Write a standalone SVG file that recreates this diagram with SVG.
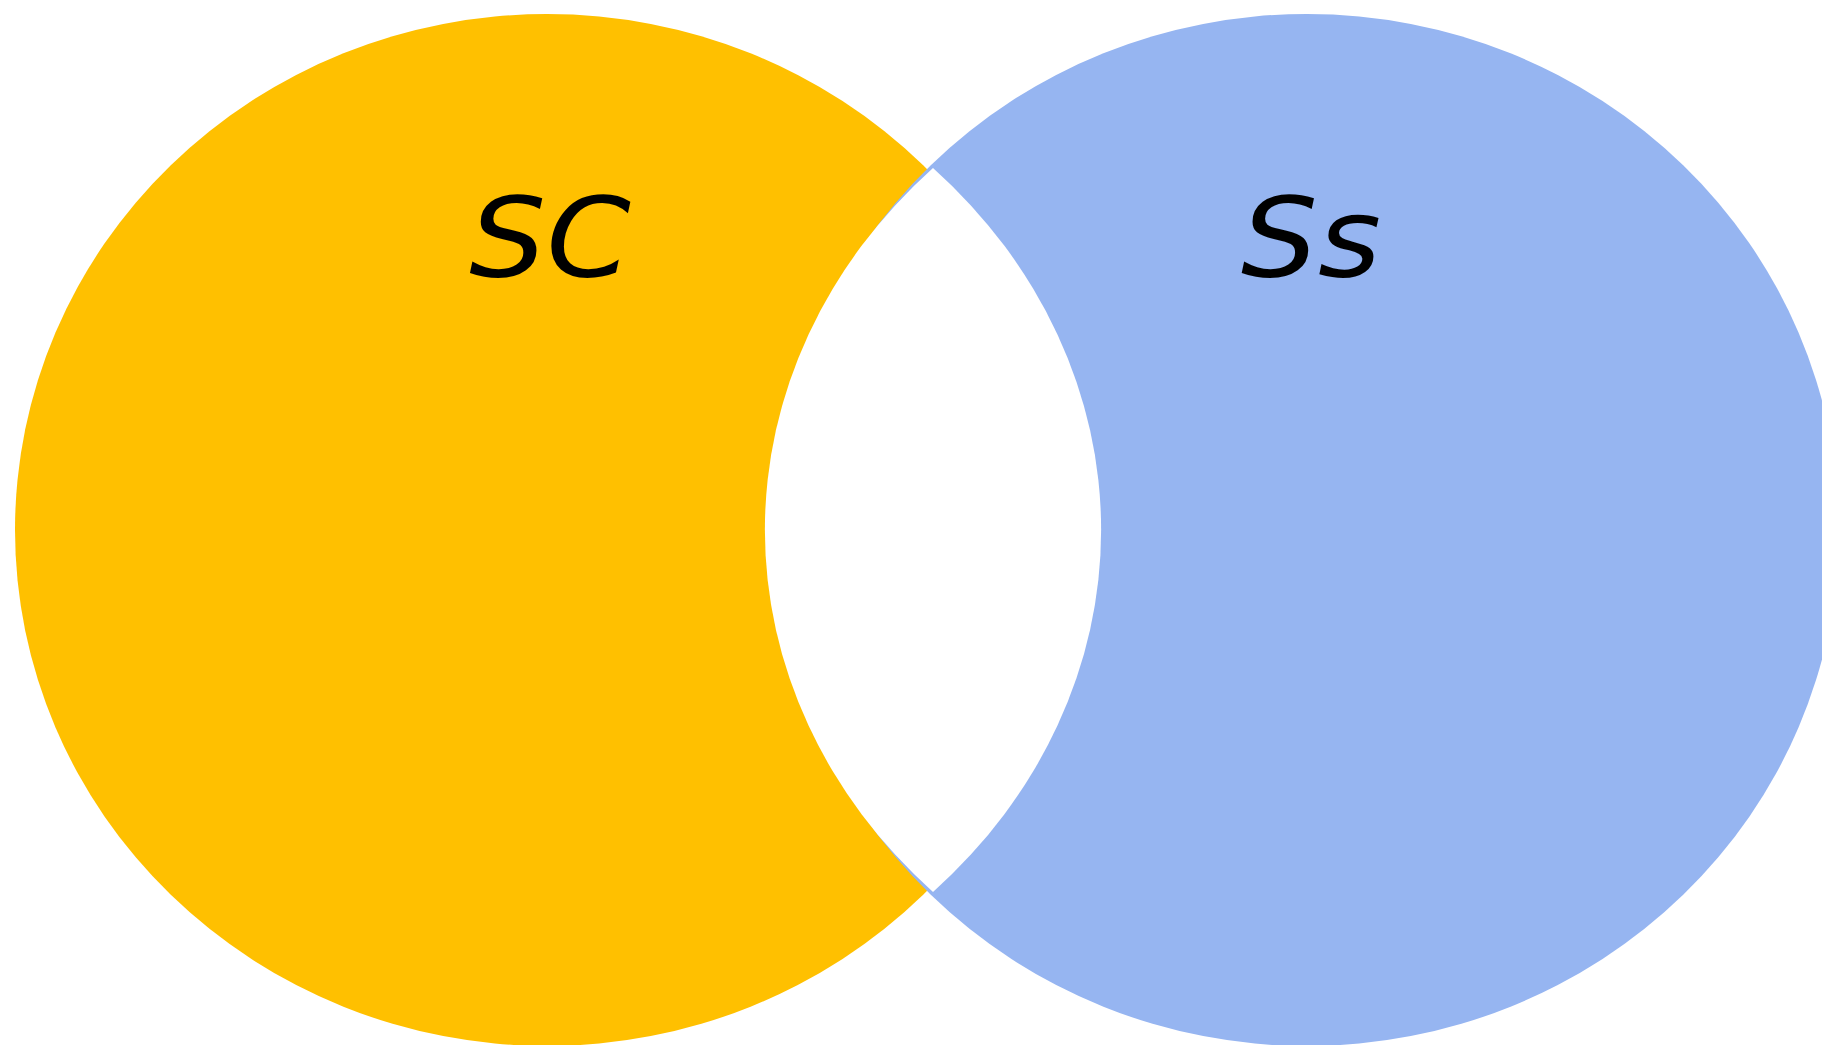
<svg xmlns="http://www.w3.org/2000/svg" width="1822" height="1045" viewBox="0 0 1822 1045">
  <style>
    .set-a { fill: #FFC000; }
    .set-b { fill: #96B5F1; }
    .overlap { fill: #FFFFFF; }
    .label { font-family: "DejaVu Sans", "Liberation Sans", sans-serif; font-style: italic; font-size: 110px; fill: #000000; text-anchor: middle; }
  </style>
  <rect width="1822" height="1045" fill="#FFFFFF"/>
  <g id="set-sc">
    <ellipse class="set-a" cx="547" cy="530" rx="532" ry="516"/>
  </g>
  <g id="set-ss">
    <ellipse class="set-b" cx="1307" cy="530" rx="532" ry="516"/>
  </g>
  <g id="intersection">
    <path class="overlap" d="M 933 168 A 585 516 0 0 0 933 892 A 585 516 0 0 0 933 168 Z"/>
  </g>
  <g id="labels">
    <!-- labels are drawn slightly wide to suit the set names -->
    <text class="label" transform="translate(550 276) scale(1.1 1)">SC</text>
    <text class="label" transform="translate(1311 276) scale(1.1 1)">Ss</text>
  </g>
  <g id="connectors"/>
</svg>
